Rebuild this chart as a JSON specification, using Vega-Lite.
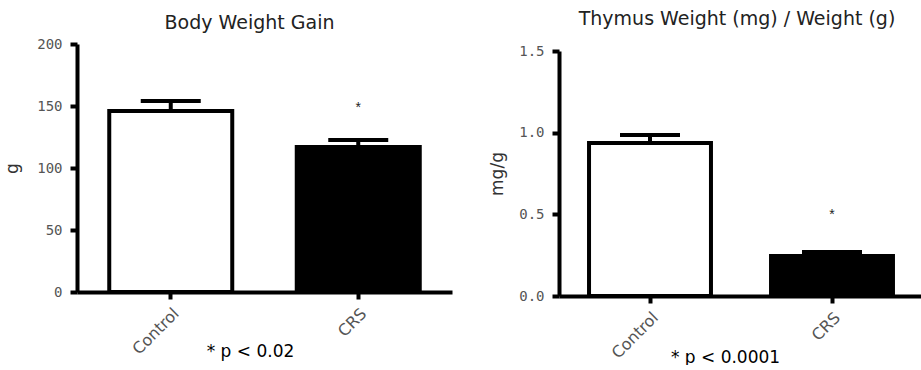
{
  "$schema": "https://vega.github.io/schema/vega-lite/v6.json",
  "padding": {"left": 3, "top": 10, "right": 0, "bottom": 0},
  "spacing": 107,
  "bounds": "flush",
  "config": {
    "view": {"stroke": null},
    "axis": {
      "grid": false,
      "domainColor": "black",
      "domainWidth": 4,
      "tickColor": "black",
      "tickWidth": 4,
      "tickSize": 7,
      "labelColor": "#555",
      "titleColor": "#333",
      "titleFontWeight": "normal",
      "labelFont": "DejaVu Sans",
      "titleFont": "DejaVu Sans"
    },
    "axisY": {"labelFont": "DejaVu Sans Mono", "labelFontSize": 14, "labelPadding": 8, "titleFontSize": 17},
    "axisX": {"labelAngle": -45, "labelFontSize": 16, "labelPadding": 6, "labelDx": -4, "titleColor": "black", "titleFontSize": 17},
    "title": {"font": "DejaVu Sans", "fontSize": 19, "fontWeight": "normal", "color": "#222", "baseline": "alphabetic", "frame": "group"}
  },
  "hconcat": [
    {
      "width": 375,
      "height": 248,
      "title": {"text": "Body Weight Gain", "anchor": "middle", "dx": -15, "offset": 4},
      "data": {"values": [
        {"group": "Control", "mean": 146, "upper": 154, "star": 0, "sig": ""},
        {"group": "CRS", "mean": 117, "upper": 122.6, "star": 148, "sig": "*"}
      ]},
      "encoding": {
        "x": {
          "field": "group", "type": "nominal", "sort": ["Control", "CRS"],
          "scale": {"paddingInner": 0.344, "paddingOuter": 0.172},
          "axis": {"title": "* p < 0.02", "titleX": 173, "titleY": 59, "titleBaseline": "middle", "titleAlign": "center"}
        }
      },
      "layer": [
        {
          "mark": {"type": "rule", "strokeWidth": 4, "color": "black"},
          "encoding": {"y": {"field": "mean", "type": "quantitative", "title": "g"}, "y2": {"field": "upper"}}
        },
        {
          "mark": {"type": "tick", "size": 60, "thickness": 4, "color": "black", "opacity": 1},
          "encoding": {"y": {"field": "upper", "type": "quantitative", "title": "g"}}
        },
        {
          "mark": {"type": "bar", "stroke": "black", "strokeWidth": 4, "opacity": 1},
          "encoding": {
            "y": {"field": "mean", "type": "quantitative", "title": "g",
                  "scale": {"domain": [0, 200], "nice": false},
                  "axis": {"values": [0, 50, 100, 150, 200], "titlePadding": 15}},
            "color": {"field": "group", "type": "nominal", "scale": {"domain": ["Control", "CRS"], "range": ["white", "black"]}, "legend": null}
          }
        },
        {
          "transform": [{"filter": "datum.sig != ''"}],
          "mark": {"type": "text", "fontSize": 14, "color": "#222", "baseline": "middle"},
          "encoding": {"y": {"field": "star", "type": "quantitative", "title": "g"}, "text": {"field": "sig"}}
        }
      ]
    },
    {
      "width": 364,
      "height": 252,
      "title": {"text": "Thymus Weight (mg) / Weight (g)", "anchor": "middle", "dx": -4, "offset": 15},
      "data": {"values": [
        {"group": "Control", "mean": 0.937, "upper": 0.986, "star": 0, "sig": ""},
        {"group": "CRS", "mean": 0.245, "upper": 0.27, "star": 0.496, "sig": "*"}
      ]},
      "encoding": {
        "x": {
          "field": "group", "type": "nominal", "sort": ["Control", "CRS"],
          "scale": {"paddingInner": 0.33, "paddingOuter": 0.165},
          "axis": {"title": "* p < 0.0001", "titleX": 166, "titleY": 61, "titleBaseline": "middle", "titleAlign": "center"}
        }
      },
      "layer": [
        {
          "mark": {"type": "rule", "strokeWidth": 4, "color": "black"},
          "encoding": {"y": {"field": "mean", "type": "quantitative", "title": "mg/g"}, "y2": {"field": "upper"}}
        },
        {
          "mark": {"type": "tick", "size": 60, "thickness": 4, "color": "black", "opacity": 1},
          "encoding": {"y": {"field": "upper", "type": "quantitative", "title": "mg/g"}}
        },
        {
          "mark": {"type": "bar", "stroke": "black", "strokeWidth": 4, "opacity": 1},
          "encoding": {
            "y": {"field": "mean", "type": "quantitative", "title": "mg/g",
                  "scale": {"domain": [0, 1.5], "nice": false, "range": [252, 7]},
                  "axis": {"values": [0, 0.5, 1, 1.5], "format": ".1f", "titlePadding": 12}},
            "color": {"field": "group", "type": "nominal", "scale": {"domain": ["Control", "CRS"], "range": ["white", "black"]}, "legend": null}
          }
        },
        {
          "transform": [{"filter": "datum.sig != ''"}],
          "mark": {"type": "text", "fontSize": 14, "color": "#222", "baseline": "middle"},
          "encoding": {"y": {"field": "star", "type": "quantitative", "title": "mg/g"}, "text": {"field": "sig"}}
        }
      ]
    }
  ]
}
